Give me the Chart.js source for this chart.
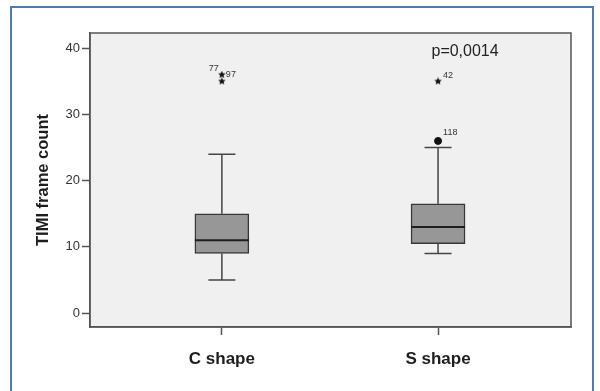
<!DOCTYPE html>
<html>
<head>
<meta charset="utf-8">
<script src="https://cdn.jsdelivr.net/npm/chart.js@4.4.1/dist/chart.umd.min.js"></script>
<style>
  html, body { margin: 0; padding: 0; background: #fff; }
  #wrap { position: relative; width: 600px; height: 391px; }
  #frame {
    position: absolute; left: 10px; top: 6px; width: 580px; height: 390px;
    border-top: 2px solid #4d7cae; border-left: 2px solid #4d7cae; border-right: 2px solid #4d7cae;
    pointer-events: none;
  }
</style>
</head>
<body>
<div id="wrap">
  <canvas id="box-chart"></canvas>
  <div id="frame"></div>
</div>
<script>
// data
const categories = ['C shape', 'S shape'];
const whiskerLow = [5, 9];
const q1 = [9, 10.5];
const median = [11, 13];
const q3 = [15, 16.5];
const whiskerHigh = [24, 25];

// extreme values (stars) and outliers (circles)
const extremeX = [0, 0, 1];
const extremeY = [36, 35, 35];
const extremeLabels = [['77', '97'], [], ['42']];
const outlierX = [1];
const outlierY = [26];
const outlierLabels = ['118'];

const yTicks = [0, 10, 20, 30, 40];
const pValueText = 'p=0,0014';

// small filled star used as point style
function makeStar(size) {
  const c = document.createElement('canvas');
  c.width = size; c.height = size;
  const g = c.getContext('2d');
  const cx = size / 2, cy = size / 2, ro = size / 2, ri = ro * 0.45;
  g.beginPath();
  for (let i = 0; i < 10; i++) {
    const r = i % 2 ? ri : ro;
    const a = -Math.PI / 2 + i * Math.PI / 5;
    g.lineTo(cx + r * Math.cos(a), cy + r * Math.sin(a));
  }
  g.closePath();
  g.fillStyle = '#111';
  g.fill();
  return c;
}

const boxExtras = {
  id: 'boxExtras',
  beforeDraw(chart) {
    const {ctx, chartArea: a} = chart;
    ctx.save();
    ctx.fillStyle = '#f0f0f0';
    ctx.fillRect(a.left, a.top, a.right - a.left, a.bottom - a.top);
    ctx.restore();
  },
  afterDatasetsDraw(chart) {
    const {ctx, scales: {x, y}} = chart;
    ctx.save();
    categories.forEach((c, i) => {
      const px = x.getPixelForValue(i);
      // whiskers
      ctx.strokeStyle = '#444';
      ctx.lineWidth = 1.5;
      ctx.beginPath();
      ctx.moveTo(px, y.getPixelForValue(q3[i]));
      ctx.lineTo(px, y.getPixelForValue(whiskerHigh[i]));
      ctx.moveTo(px, y.getPixelForValue(q1[i]));
      ctx.lineTo(px, y.getPixelForValue(whiskerLow[i]));
      [whiskerHigh[i], whiskerLow[i]].forEach(v => {
        const py = y.getPixelForValue(v);
        ctx.moveTo(px - 13.5, py);
        ctx.lineTo(px + 13.5, py);
      });
      ctx.stroke();
      // median
      ctx.strokeStyle = '#1e1e1e';
      ctx.lineWidth = 2;
      ctx.beginPath();
      const pm = y.getPixelForValue(median[i]);
      ctx.moveTo(px - 27, pm);
      ctx.lineTo(px + 27, pm);
      ctx.stroke();
    });

    // case labels
    ctx.fillStyle = '#333';
    ctx.font = '9px "Liberation Sans", Arial, sans-serif';
    ctx.textBaseline = 'middle';
    extremeLabels.forEach((labs, i) => {
      const px = x.getPixelForValue(extremeX[i]);
      const py = y.getPixelForValue(extremeY[i]);
      if (labs.length === 2) {
        ctx.textAlign = 'right';
        ctx.fillText(labs[0], px - 3, py - 6);
        ctx.textAlign = 'left';
        ctx.fillText(labs[1], px + 4, py);
      } else if (labs.length === 1) {
        ctx.textAlign = 'left';
        ctx.fillText(labs[0], px + 5, py - 6);
      }
    });
    outlierLabels.forEach((lab, i) => {
      const px = x.getPixelForValue(outlierX[i]);
      const py = y.getPixelForValue(outlierY[i]);
      ctx.textAlign = 'left';
      ctx.fillText(lab, px + 5, py - 8);
    });

    // p value
    ctx.fillStyle = '#222';
    ctx.font = '16px "Liberation Sans", Arial, sans-serif';
    ctx.textAlign = 'center';
    ctx.fillText(pValueText, x.getPixelForValue(1.125), y.getPixelForValue(39.5));
    ctx.restore();
  },
  afterDraw(chart) {
    const {ctx, chartArea: a} = chart;
    ctx.save();
    ctx.strokeStyle = '#555';
    ctx.lineWidth = 1.5;
    ctx.strokeRect(a.left, a.top, a.right - a.left, a.bottom - a.top);
    ctx.restore();
  }
};

new Chart(document.getElementById('box-chart'), {
  type: 'bar',
  data: {
    datasets: [
      {
        label: 'box',
        data: categories.map((c, i) => ({x: i, y: [q1[i], q3[i]]})),
        backgroundColor: '#979797',
        borderColor: '#383838',
        borderWidth: 1.5,
        borderSkipped: false,
        barThickness: 54,
      },
      {
        type: 'scatter',
        label: 'extremes',
        data: extremeX.map((v, i) => ({x: v, y: extremeY[i]})),
        pointStyle: makeStar(8),
        pointRadius: 4,
      },
      {
        type: 'scatter',
        label: 'outliers',
        data: outlierX.map((v, i) => ({x: v, y: outlierY[i]})),
        pointStyle: 'circle',
        pointRadius: 3.5,
        backgroundColor: '#111',
        borderColor: '#111',
      },
    ],
  },
  options: {
    responsive: true,
    maintainAspectRatio: false,
    animation: false,
    layout: {
      padding: {left: 0, right: 29, top: 33, bottom: 0},
    },
    plugins: {
      legend: {display: false},
      tooltip: {enabled: false},
    },
    scales: {
      x: {
        type: 'linear',
        min: -0.61,
        max: 1.615,
        offset: false,
        afterBuildTicks: (scale) => { scale.ticks = categories.map((c, i) => ({value: i})); },
        afterFit: (scale) => { scale.height = 64; },
        grid: {offset: false, drawOnChartArea: false, drawTicks: true, tickLength: 8, tickColor: '#555', tickWidth: 1.5},
        border: {display: true, color: '#555', width: 1.5},
        ticks: {
          callback: (v) => categories[v],
          padding: 14,
          color: '#1e1e1e',
          font: {family: '"Liberation Sans", Arial, sans-serif', size: 17, weight: 'bold'},
        },
      },
      y: {
        min: -2.1,
        max: 42.3,
        afterBuildTicks: (scale) => { scale.ticks = yTicks.map(v => ({value: v})); },
        afterFit: (scale) => { scale.width = 90; },
        grid: {drawOnChartArea: false, drawTicks: true, tickLength: 8, tickColor: '#555', tickWidth: 1.5},
        border: {display: true, color: '#555', width: 1.5},
        ticks: {
          padding: 2,
          color: '#333',
          font: {family: '"Liberation Sans", Arial, sans-serif', size: 13},
        },
        title: {
          display: true,
          text: 'TIMI frame count',
          color: '#1e1e1e',
          padding: {top: 34, bottom: 0},
          font: {family: '"Liberation Sans", Arial, sans-serif', size: 16.5, weight: 'bold'},
        },
      },
    },
  },
  plugins: [boxExtras],
});
</script>
</body>
</html>
